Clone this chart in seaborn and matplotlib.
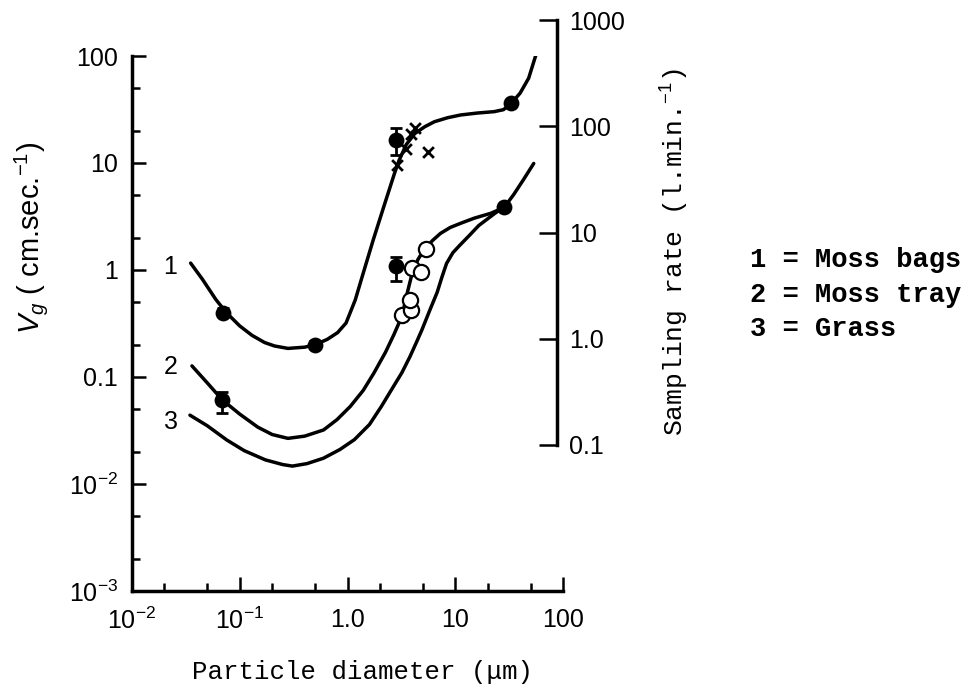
import matplotlib
matplotlib.use("Agg")
import matplotlib.pyplot as plt
import seaborn as sns
import numpy as np
from matplotlib.ticker import FixedLocator, FixedFormatter, NullFormatter

sns.set_theme(style="white")
plt.rcParams["font.family"] = ["Liberation Sans", "DejaVu Sans"]
plt.rcParams["mathtext.fontset"] = "custom"
plt.rcParams["mathtext.rm"] = "Liberation Sans"
plt.rcParams["mathtext.it"] = "Liberation Sans:italic"
plt.rcParams["mathtext.bf"] = "Liberation Sans:bold"
for key in ["text.color", "axes.labelcolor", "xtick.color", "ytick.color", "axes.edgecolor"]:
    plt.rcParams[key] = "black"

# ---- curves: particle diameter (um) vs deposition velocity (cm/s) ----
moss_bags_d = [0.035, 0.045, 0.06, 0.075, 0.1, 0.13, 0.17, 0.21, 0.28, 0.4, 0.5,
               0.65, 0.81, 0.97, 1.18, 1.37, 1.73, 2.17, 2.73, 3.0, 3.5, 4.2,
               5.2, 6.4, 8.5, 11.2, 16, 23, 28, 33, 40, 48, 56]
moss_bags_v = [1.16, 0.82, 0.53, 0.40, 0.30, 0.245, 0.21, 0.195, 0.185, 0.19, 0.20,
               0.225, 0.26, 0.32, 0.525, 0.87, 1.9, 3.9, 8.0, 10.5, 14.8, 18.8,
               21.8, 24.3, 26.5, 28.1, 29.3, 30.2, 31.5, 36, 45, 62, 102]

moss_tray_d = [0.036, 0.05, 0.069, 0.1, 0.147, 0.2, 0.28, 0.4, 0.6, 0.8, 1.06,
               1.4, 1.75, 2.25, 2.7, 3.2, 3.6, 4.0, 4.5, 5.2, 6.2, 7.3, 9.0,
               11.2, 15, 21.4, 28.5, 35, 43, 53.5]
moss_tray_v = [0.127, 0.088, 0.061, 0.045, 0.034, 0.029, 0.0267, 0.028, 0.032,
               0.04, 0.053, 0.075, 0.108, 0.17, 0.25, 0.37, 0.62, 0.95, 1.25,
               1.58, 1.9, 2.2, 2.5, 2.73, 3.05, 3.39, 3.85, 5.1, 7.0, 9.9]

grass_d = [0.0345, 0.05, 0.0757, 0.11, 0.173, 0.25, 0.308, 0.42, 0.597, 0.85,
           1.16, 1.6, 2.06, 2.6, 3.2, 3.8, 4.4, 4.9, 5.8, 6.8, 7.5, 8.3, 9.5,
           11, 13.5, 16.5, 23, 28.5]
grass_v = [0.044, 0.035, 0.0258, 0.0205, 0.0168, 0.0152, 0.0147, 0.0155, 0.0174,
           0.021, 0.026, 0.036, 0.053, 0.078, 0.11, 0.155, 0.215, 0.275, 0.42,
           0.62, 0.85, 1.15, 1.45, 1.7, 2.1, 2.6, 3.35, 3.9]

# ---- measured points ----
filled_d = [0.07, 0.5, 2.8, 33, 0.069, 2.8, 28.5]
filled_v = [0.40, 0.20, 16.4, 36, 0.061, 1.1, 3.85]

err_d = [0.07, 0.5, 2.8, 0.069, 2.8]
err_v = [0.40, 0.20, 16.4, 0.061, 1.1]
err_lo = [0.37, 0.185, 11.9, 0.046, 0.79]
err_hi = [0.44, 0.215, 21.2, 0.073, 1.33]

open_d = [3.23, 3.85, 3.79, 4.0, 4.78, 5.4]
open_v = [0.38, 0.42, 0.53, 1.04, 0.96, 1.57]

cross_d = [2.9, 3.5, 3.85, 4.25, 5.55]
cross_v = [9.6, 13.4, 18.8, 21.1, 12.6]

# ---- axis ticks ----
x_major = [1e-2, 1e-1, 1, 10, 100]
x_labels = ["$10^{-2}$", "$10^{-1}$", "1.0", "10", "100"]
y_major = [1e-3, 1e-2, 1e-1, 1, 10, 100]
y_labels = ["$10^{-3}$", "$10^{-2}$", "0.1", "1", "10", "100"]
rate_major = [0.1, 1, 10, 100, 1000]
rate_labels = ["0.1", "1.0", "10", "100", "1000"]

curve_labels = ["1", "2", "3"]
legend_rows = ["1 = Moss bags", "2 = Moss tray", "3 = Grass"]

W, H = 975, 696
fig = plt.figure(figsize=(W / 100, H / 100), dpi=100)


def box(x0, y0, x1, y1):
    return [x0 / W, 1 - y1 / H, (x1 - x0) / W, (y1 - y0) / H]


ax = fig.add_axes(box(132, 56, 563, 591))
ax.set_xscale("log")
ax.set_yscale("log")
ax.set_xlim(1e-2, 1e2)
ax.set_ylim(1e-3, 1e2)
ax.patch.set_alpha(0)

LW = 2.5
for d, v in [(moss_bags_d, moss_bags_v), (moss_tray_d, moss_tray_v), (grass_d, grass_v)]:
    sns.lineplot(x=d, y=v, ax=ax, color="black", lw=LW, sort=False,
                 estimator=None, zorder=2)

ax.errorbar(err_d, err_v, yerr=[np.subtract(err_v, err_lo), np.subtract(err_hi, err_v)],
            fmt="none", ecolor="black", elinewidth=2, capsize=4, capthick=2, zorder=4)
sns.scatterplot(x=filled_d, y=filled_v, ax=ax, color="black", s=130, marker="o",
                edgecolor="black", linewidth=0, zorder=5)
sns.scatterplot(x=open_d, y=open_v, ax=ax, color="white", s=120, marker="o",
                edgecolor="black", linewidth=1.6, zorder=6)
sns.scatterplot(x=cross_d, y=cross_v, ax=ax, color="black", s=60, marker="x",
                linewidth=2, zorder=6)

for sp in ["top", "right"]:
    ax.spines[sp].set_visible(False)
for sp in ["left", "bottom"]:
    ax.spines[sp].set_linewidth(2.5)
    ax.spines[sp].set_color("black")

ax.xaxis.set_major_locator(FixedLocator(x_major))
ax.xaxis.set_major_formatter(FixedFormatter(x_labels))
ax.yaxis.set_major_locator(FixedLocator(y_major))
ax.yaxis.set_major_formatter(FixedFormatter(y_labels))
ax.xaxis.set_minor_locator(FixedLocator([m * 10.0 ** e for e in range(-2, 2) for m in (2, 5)]))
ax.yaxis.set_minor_locator(FixedLocator([m * 10.0 ** e for e in range(-3, 2) for m in (2, 5)]))
ax.xaxis.set_minor_formatter(NullFormatter())
ax.yaxis.set_minor_formatter(NullFormatter())
ax.tick_params(which="both", direction="in", color="black", labelcolor="black",
               labelsize=18, bottom=True, left=True, top=False, right=False)
ax.tick_params(which="major", length=10, width=1.8)
ax.tick_params(which="minor", length=6, width=1.8)
ax.tick_params(axis="x", pad=12)
ax.tick_params(axis="y", pad=10)
ax.grid(False)

# curve numbers beside the left ends
for lab, (xd, yv) in zip(curve_labels, [(0.0225, 1.07), (0.0231, 0.124), (0.0231, 0.038)]):
    ax.text(xd, yv, lab, ha="center", va="center", fontsize=18, color="black")

# secondary sampling-rate scale
ax2 = fig.add_axes(box(517, 20, 557, 445))
ax2.set_yscale("log")
ax2.set_ylim(0.1, 1000)
ax2.patch.set_alpha(0)
for sp in ["top", "left", "bottom"]:
    ax2.spines[sp].set_visible(False)
ax2.spines["right"].set_linewidth(2.5)
ax2.spines["right"].set_color("black")
ax2.set_xticks([])
ax2.yaxis.tick_right()
ax2.yaxis.set_major_locator(FixedLocator(rate_major))
ax2.yaxis.set_major_formatter(FixedFormatter(rate_labels))
ax2.yaxis.set_minor_locator(FixedLocator([]))
ax2.tick_params(axis="y", which="major", direction="in", length=13, width=1.8,
                labelsize=18, pad=9, color="black", labelcolor="black")
ax2.grid(False)

mono = "Liberation Mono"
fig.text(31 / W, 1 - 238 / H, "$V_g$ ( cm.sec.$^{-1}$)", rotation=90,
         ha="center", va="center", fontsize=21, color="black")
fig.text(362 / W, 1 - 672 / H, "Particle diameter (\u03bcm)", family=mono,
         ha="center", va="center", fontsize=18.5, color="black")
fig.text(675 / W, 1 - 252 / H, "Sampling rate (l.min.$^{-1}$)", family=mono,
         rotation=90, ha="center", va="center", fontsize=19, color="black")
for row, y in zip(legend_rows, [260, 295, 329]):
    fig.text(750 / W, 1 - y / H, row, family=mono, fontweight="bold",
             ha="left", va="center", fontsize=19.5, color="black")

fig.savefig("out.png", dpi=100)
